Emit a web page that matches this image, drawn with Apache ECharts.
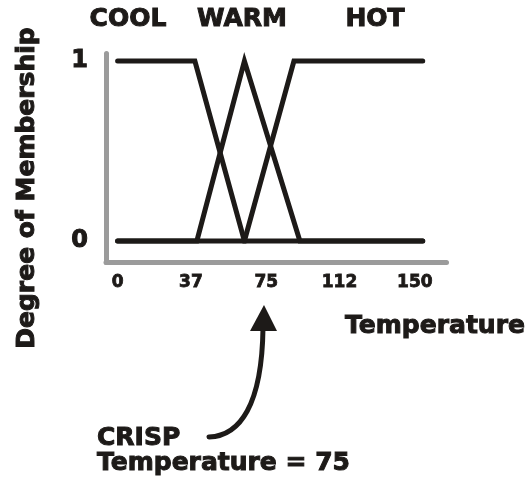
<!DOCTYPE html>
<html>
<head>
<meta charset="utf-8">
<script src="https://cdn.jsdelivr.net/npm/echarts@6/dist/echarts.min.js"></script>
<style>
html,body{margin:0;padding:0;background:#fff;}
#chart{width:529px;height:484px;}
</style>
</head>
<body>
<div id="chart"></div>
<script>
// ---- data ----
const seriesNames = ['COOL', 'WARM', 'HOT'];
const coolX = [0, 39, 64, 154];
const coolY = [1, 1, 0, 0];
const warmX = [0, 40, 64, 92, 154];
const warmY = [0, 0, 1, 0, 0];
const hotX = [0, 64, 89, 154];
const hotY = [0, 0, 1, 1];
const xTickValues = [0, 37, 75, 112, 150];
const xTickLabels = ['0', '37', '75', '112', '150'];
const yTickValues = [0, 1];
const yTickLabels = ['0', '1'];
const xTitle = 'Temperature';
const yTitle = 'Degree of Membership';
const noteLine1 = 'CRISP';
const noteLine2 = 'Temperature = 75';

const ink = '#1d1a18';
const grey = '#9b9b9b';
const FONT = 'DejaVu Sans';
const BIG = 'bold 25px "DejaVu Sans"';

function pairs(xs, ys) { return xs.map((x, i) => [x, ys[i]]); }

const chart = echarts.init(document.getElementById('chart'), null, {renderer: 'canvas'});

const lineSeries = [[coolX, coolY], [warmX, warmY], [hotX, hotY]].map((d, i) => ({
  name: seriesNames[i],
  type: 'line',
  data: pairs(d[0], d[1]),
  symbol: 'none',
  animation: false,
  lineStyle: {color: ink, width: 5, cap: 'round', join: 'miter'}
}));

function txt(text, x, y, align, extra) {
  return Object.assign({type: 'text', style: {
    text: text, x: x, y: y, textAlign: align, textVerticalAlign: 'middle',
    font: BIG, fill: ink, stroke: ink, lineWidth: 1
  }}, extra || {});
}

chart.setOption({
  animation: false,
  backgroundColor: '#fff',
  grid: {left: 106, top: 53.5, width: 340.5, height: 209},
  xAxis: {
    type: 'value',
    min: -5.86, max: 166.0,
    splitLine: {show: false},
    axisTick: {show: false},
    axisLine: {onZero: false, lineStyle: {color: grey, width: 5, cap: 'round'}},
    axisLabel: {
      customValues: xTickValues,
      formatter: v => xTickLabels[xTickValues.indexOf(v)],
      color: ink, fontFamily: FONT, fontWeight: 'bold', fontSize: 17, margin: 12,
      textBorderColor: ink, textBorderWidth: 0.8
    }
  },
  yAxis: {
    type: 'value',
    min: -0.1194, max: 1.0417,
    splitLine: {show: false},
    axisTick: {show: false},
    axisLine: {onZero: false, lineStyle: {color: grey, width: 5, cap: 'round'}},
    axisLabel: {
      customValues: yTickValues,
      formatter: v => yTickLabels[yTickValues.indexOf(v)],
      color: ink, fontFamily: FONT, fontWeight: 'bold', fontSize: 24, margin: 18,
      padding: [6, 0, 0, 0],
      textBorderColor: ink, textBorderWidth: 1
    }
  },
  series: lineSeries,
  graphic: [
    txt(seriesNames[0], 128, 19, 'center'),
    txt(seriesNames[1], 242, 19, 'center'),
    txt(seriesNames[2], 375, 19, 'center'),
    txt(xTitle, 435, 326, 'center'),
    {type: 'text', x: 27, y: 188, rotation: Math.PI / 2, style: {text: yTitle, x: 0, y: 0, textAlign: 'center', textVerticalAlign: 'middle', font: BIG, fill: ink, stroke: ink, lineWidth: 1}},
    txt(noteLine1, 97, 438, 'left'),
    txt(noteLine2, 97, 463, 'left'),
    {type: 'bezierCurve', shape: {x1: 209, y1: 437, cpx1: 240, cpy1: 436, cpx2: 262, cpy2: 405, x2: 263, y2: 328},
      style: {stroke: ink, lineWidth: 5, fill: null, lineCap: 'round'}},
    {type: 'polygon', shape: {points: [[264, 305], [250, 331], [277, 331]]}, style: {fill: ink}}
  ]
});
</script>
</body>
</html>
